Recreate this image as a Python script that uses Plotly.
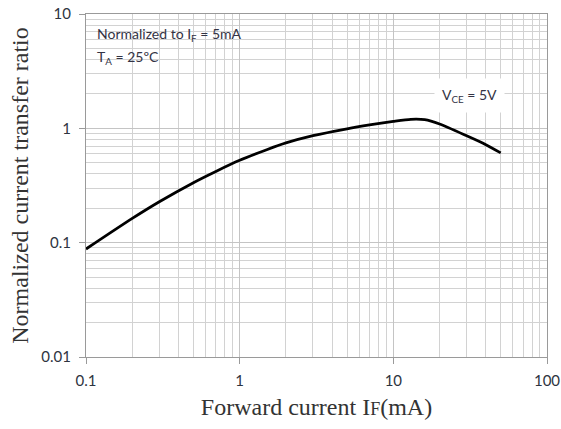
import plotly.graph_objects as go

# Data
forward_current_mA = [0.1, 0.2, 0.3, 0.5, 0.7, 1, 1.5, 2, 3, 5, 7, 10, 13, 16, 20, 30, 40, 50]
normalized_ctr = [0.088, 0.163, 0.228, 0.335, 0.42, 0.525, 0.65, 0.745, 0.862, 0.99, 1.07, 1.15, 1.20, 1.19, 1.09, 0.86, 0.72, 0.61]

x_major = [0.1, 1, 10, 100]
x_major_labels = ["0.1", "1", "10", "100"]
y_major = [0.01, 0.1, 1, 10]
y_major_labels = ["0.01", "0.1", "1", "10"]

def minors(decades):
    return [m * d for d in decades for m in range(2, 10)]

x_minor = minors([0.1, 1, 10])
y_minor = minors([0.01, 0.1, 1])

tick_font = dict(family="Lato, Open Sans, sans-serif", size=15, color="#2e3440")
title_font = dict(family="Liberation Serif, Times New Roman, serif", size=24, color="#333333")

fig = go.Figure()
fig.add_trace(go.Scatter(
    x=forward_current_mA, y=normalized_ctr, mode="lines",
    line=dict(color="black", width=2.8, shape="spline", smoothing=0.7),
    showlegend=False, hoverinfo="skip"))

axis_common = dict(
    type="log", showline=True, linecolor="#9a9a9a", linewidth=1.2, mirror=True,
    showgrid=True, gridcolor="#c4c4c4", gridwidth=1,
    ticks="outside", ticklen=6, tickcolor="#9a9a9a",
    tickfont=tick_font, zeroline=False, automargin=False,
)

fig.update_xaxes(
    **axis_common, range=[-1, 2], tickvals=x_major, ticktext=x_major_labels,
    ticklabelstandoff=4,
    minor=dict(tickvals=x_minor, showgrid=True, gridcolor="#d2d2d2", gridwidth=1, ticks=""),
    title=dict(text="Forward current I<span style='font-size:18px'>F</span>(mA)",
               font=title_font, standoff=10),
)
fig.update_yaxes(
    **axis_common, range=[-2, 1], tickvals=y_major, ticktext=y_major_labels,
    ticklabelstandoff=5,
    minor=dict(tickvals=y_minor, showgrid=True, gridcolor="#d2d2d2", gridwidth=1, ticks=""),
    title=dict(text="Normalized current transfer ratio", font=title_font, standoff=5),
)

note_font = dict(family="Lato, Open Sans, sans-serif", size=14, color="#333344")
# white box behind the note in the top-left corner
fig.add_shape(type="rect", xref="paper", yref="paper", x0=0.002, x1=0.351, y0=0.816, y1=0.997,
              fillcolor="white", line=dict(width=0), layer="between")
fig.add_annotation(
    xref="paper", yref="paper", x=0.0195, y=0.939, xanchor="left", yanchor="middle",
    text="Normalized to I<sub>F</sub> = 5mA", showarrow=False, font=note_font)
fig.add_annotation(
    xref="paper", yref="paper", x=0.0195, y=0.872, xanchor="left", yanchor="middle",
    text="T<sub>A</sub> = 25ºC", showarrow=False, font=note_font)
fig.add_annotation(
    x=1.494, y=0.29, xref="x", yref="y", xanchor="center", yanchor="middle",
    text="V<sub>CE</sub> = 5V", showarrow=False, font=note_font,
    bgcolor="white", borderpad=7)

fig.update_layout(
    width=561, height=429,
    margin=dict(l=86, r=14, t=14, b=72, autoexpand=False),
    plot_bgcolor="white", paper_bgcolor="white",
)

fig.write_html(
    "out.html",
    config={"displayModeBar": False},
    post_script="document.body.style.margin='0';document.documentElement.style.overflow='hidden';",
)
